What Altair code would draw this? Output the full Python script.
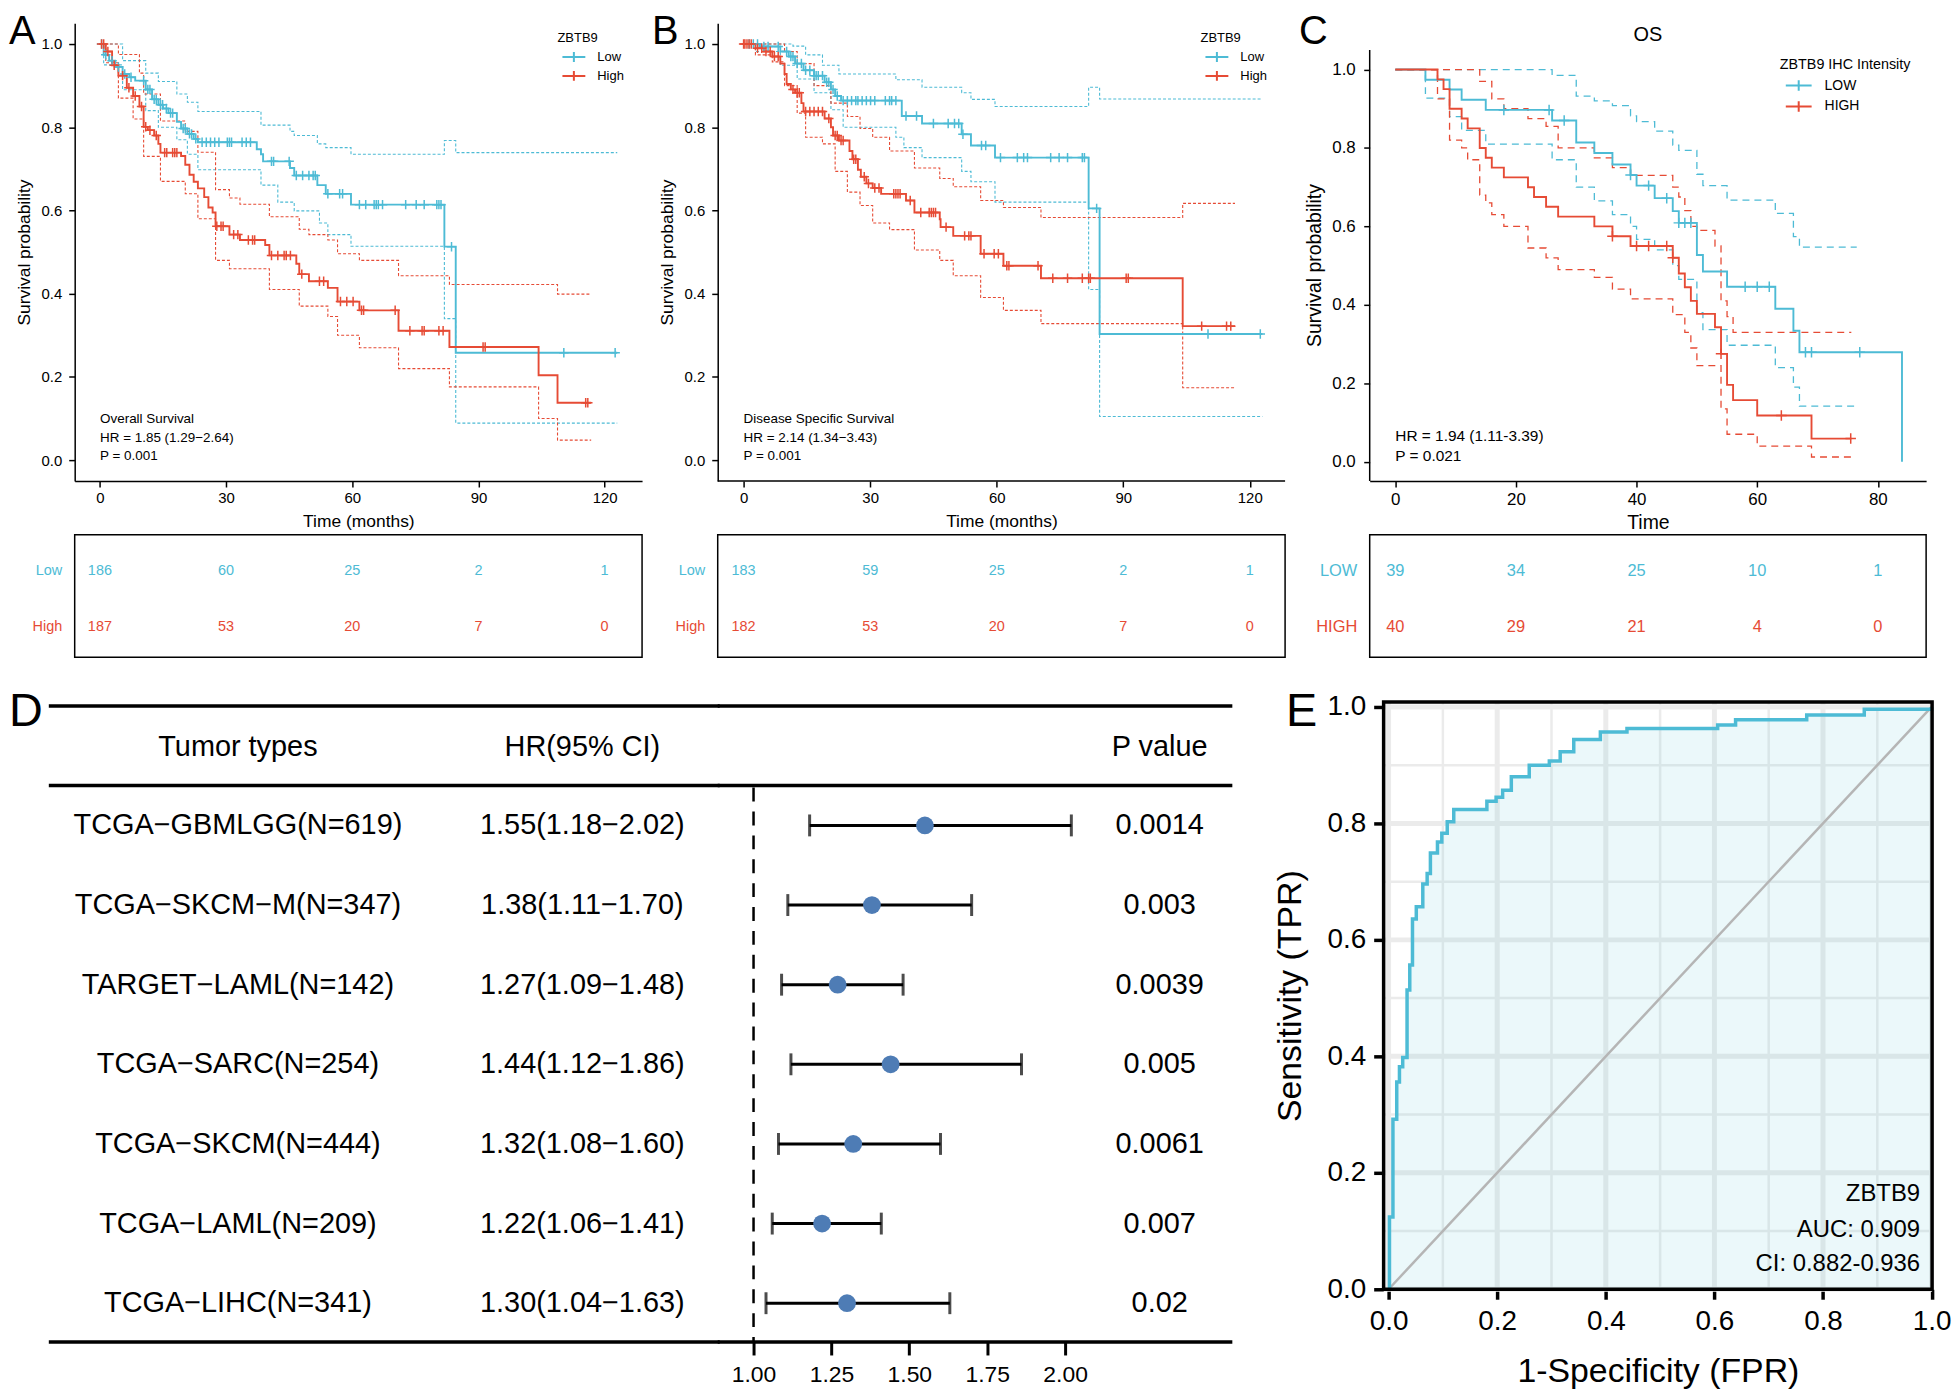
import altair as alt
import pandas as pd

FONT = "Liberation Sans"
BLUE = "#4DBBD5"
RED = "#E64B35"
DOT = "#4E7CB5"
GRID = "#EBEBEB"
CROSS = "M-1,0L1,0M0,-1L0,1"

# ---------------- Panel A : Overall survival ----------------
A_low_t = [0, 0.9, 2.2, 3.6, 5.4, 7.0, 8.4, 10.9, 12.4, 13.9, 15.0, 16.3, 18.3, 19.3, 20.8, 22.3, 23.3,
           37.3, 38.3, 38.8, 45.2, 46.2, 51.7, 53.7, 59.7, 81.9, 84.6]
A_low_s = [1.0, 0.974, 0.96, 0.945, 0.928, 0.92, 0.912, 0.891, 0.867, 0.854, 0.845, 0.834, 0.813, 0.797, 0.784,
           0.772, 0.764, 0.747, 0.735, 0.718, 0.702, 0.684, 0.661, 0.640, 0.614, 0.513, 0.258]
A_low_end = 123.0
A_low_cens = [0.4, 1.4, 2.9, 4.4, 5.9, 7.4, 10.4, 11.4, 11.9, 12.9, 13.4, 14.4, 14.9, 15.8, 16.8, 17.3, 19.8,
              20.3, 21.3, 21.8, 22.8, 24.3, 25.3, 26.3, 27.3, 28.3, 30.3, 30.8, 31.3, 33.8, 34.8, 35.8, 40.8,
              41.3, 45.0, 46.7, 48.2, 49.7, 50.7, 51.2, 54.2, 57.0, 57.7, 61.7, 63.2, 65.2, 65.7, 66.2, 67.2,
              72.7, 75.2, 77.1, 80.1, 80.6, 81.1, 83.6, 110.3, 122.5]
A_low_up_t = [0, 5.4, 10.9, 13.9, 18.3, 20.8, 23.3, 38.3, 45.2, 46.2, 51.7, 53.7, 59.7, 81.9, 84.6]
A_low_up_s = [1.0, 0.96, 0.93, 0.91, 0.88, 0.86, 0.838, 0.805, 0.79, 0.78, 0.76, 0.751, 0.735, 0.768, 0.739]
A_low_lo_t = [0, 0.9, 5.4, 10.9, 13.9, 18.3, 20.8, 23.3, 38.3, 42.3, 46.2, 52.2, 54.2, 59.7, 81.9, 84.6]
A_low_lo_s = [1.0, 0.95, 0.89, 0.84, 0.80, 0.77, 0.735, 0.698, 0.661, 0.62, 0.599, 0.570, 0.542, 0.514, 0.340, 0.089]

A_high_t = [0, 1.4, 2.9, 4.4, 6.4, 7.9, 9.4, 10.4, 11.4, 12.9, 13.9, 14.4, 19.3, 20.3, 21.3, 22.3, 23.3, 24.8,
            25.8, 26.8, 27.5, 30.8, 33.3, 39.3, 40.3, 46.7, 47.4, 49.7, 54.2, 56.5, 61.7, 71.0, 83.1, 104.3, 108.8]
A_high_s = [1.0, 0.982, 0.949, 0.924, 0.895, 0.875, 0.850, 0.801, 0.793, 0.780, 0.760, 0.739, 0.731, 0.710, 0.686,
            0.669, 0.653, 0.632, 0.607, 0.595, 0.562, 0.542, 0.529, 0.517, 0.492, 0.472, 0.447, 0.430, 0.414,
            0.381, 0.360, 0.311, 0.272, 0.204, 0.138]
A_high_end = 116.8
A_high_cens = [0.4, 0.9, 1.9, 3.4, 5.4, 6.9, 8.4, 9.9, 10.9, 11.9, 13.4, 15.4, 15.9, 17.3, 17.8, 18.3, 27.8, 28.8,
               29.3, 31.8, 32.8, 35.3, 36.3, 36.8, 40.8, 42.3, 43.8, 44.3, 45.3, 48.0, 52.2, 53.2, 57.2, 58.7,
               60.2, 62.2, 62.7, 70.2, 73.7, 76.6, 77.1, 80.6, 81.6, 91.1, 91.6, 115.5, 116.0]
A_high_up_t = [0, 4.4, 9.4, 10.4, 14.4, 20.3, 23.3, 27.5, 30.8, 33.3, 40.3, 47.4, 49.7, 54.2, 56.5, 61.7, 71.0,
               83.1, 108.8]
A_high_up_s = [1.0, 0.975, 0.93, 0.88, 0.815, 0.79, 0.74, 0.65, 0.63, 0.615, 0.585, 0.555, 0.542, 0.529, 0.496,
               0.48, 0.443, 0.422, 0.399]
A_high_lo_t = [0, 1.4, 4.4, 7.9, 10.4, 14.4, 20.3, 23.3, 27.5, 30.8, 40.3, 47.4, 54.2, 56.5, 61.7, 71.0, 83.1,
               104.3, 108.8]
A_high_lo_s = [1.0, 0.955, 0.87, 0.82, 0.73, 0.67, 0.64, 0.58, 0.48, 0.46, 0.41, 0.37, 0.345, 0.30, 0.27, 0.22,
               0.176, 0.10, 0.048]

A_risk_t = [0, 30, 60, 90, 120]
A_risk_low = [186, 60, 25, 2, 1]
A_risk_high = [187, 53, 20, 7, 0]
A_notes = ["Overall Survival", "HR = 1.85 (1.29\u22122.64)", "P = 0.001"]

# ---------------- Panel B : Disease specific survival ----------------
B_low_t = [0, 3.8, 8.7, 10.7, 12.2, 14.2, 16.7, 19.2, 20.7, 21.7, 23.1, 37.5, 42.3, 51.7, 53.9, 59.6, 81.8, 84.4]
B_low_s = [1.0, 0.994, 0.982, 0.970, 0.953, 0.937, 0.924, 0.908, 0.891, 0.875, 0.864, 0.827, 0.809, 0.783,
           0.756, 0.727, 0.605, 0.303]
B_low_end = 123.0
B_low_cens = [1.3, 2.3, 3.3, 4.8, 5.8, 8.2, 10.2, 11.2, 11.7, 12.7, 13.7, 14.7, 15.7, 16.7, 17.2, 17.7, 18.7,
              19.7, 20.2, 21.2, 22.2, 23.6, 24.6, 25.6, 26.6, 27.1, 28.1, 29.1, 30.1, 31.1, 33.6, 34.6, 35.1,
              36.1, 38.5, 41.0, 45.0, 48.5, 50.0, 51.0, 52.0, 56.4, 57.4, 60.9, 64.9, 66.4, 67.3, 72.8, 74.8,
              76.8, 80.3, 80.8, 83.7, 110.1, 122.5]
B_low_up_t = [0, 11.7, 14.7, 18.7, 22.6, 36.1, 42.3, 51.7, 53.9, 59.6, 81.8, 84.4]
B_low_up_s = [1.0, 0.995, 0.974, 0.949, 0.928, 0.914, 0.896, 0.883, 0.867, 0.85, 0.896, 0.868]
B_low_lo_t = [0, 2.8, 8.7, 12.7, 16.7, 20.7, 23.6, 36.1, 38.0, 42.3, 51.7, 53.9, 59.6, 81.8, 84.4]
B_low_lo_s = [1.0, 0.982, 0.949, 0.916, 0.883, 0.842, 0.80, 0.776, 0.751, 0.727, 0.694, 0.669, 0.62, 0.41, 0.105]

B_high_t = [0, 2.8, 4.8, 6.8, 8.7, 9.7, 10.2, 11.2, 12.2, 13.7, 14.2, 19.2, 20.7, 21.2, 22.6, 25.1, 25.8, 27.1,
            27.8, 29.1, 30.6, 32.6, 38.5, 40.5, 46.5, 46.7, 49.7, 56.2, 61.6, 70.5, 104.1]
B_high_s = [1.0, 0.99, 0.982, 0.970, 0.953, 0.928, 0.904, 0.891, 0.883, 0.858, 0.838, 0.821, 0.80, 0.78, 0.768,
            0.743, 0.723, 0.698, 0.681, 0.665, 0.654, 0.640, 0.624, 0.595, 0.579, 0.560, 0.539, 0.496, 0.467,
            0.437, 0.322]
B_high_end = 116.5
B_high_cens = [0.0, 0.3, 0.8, 1.3, 1.8, 3.3, 4.3, 5.3, 6.3, 7.3, 8.2, 11.7, 12.7, 13.2, 14.7, 15.7, 16.7, 17.7,
               18.7, 20.2, 21.7, 22.2, 23.1, 23.6, 26.1, 26.6, 28.6, 29.6, 31.1, 32.1, 35.6, 36.1, 36.6, 37.1,
               39.5, 42.0, 44.0, 44.5, 45.0, 45.5, 48.0, 52.4, 53.4, 53.9, 57.0, 59.4, 60.4, 62.4, 62.9, 69.8,
               73.3, 76.8, 80.3, 81.8, 82.2, 90.7, 91.2, 108.6, 114.5, 115.5]
B_high_up_t = [0, 9.7, 12.7, 16.7, 20.7, 24.6, 27.6, 30.6, 34.6, 40.5, 46.5, 49.7, 56.2, 61.6, 70.5, 104.1]
B_high_up_s = [1.0, 0.982, 0.953, 0.90, 0.858, 0.826, 0.797, 0.776, 0.743, 0.702, 0.677, 0.657, 0.624, 0.607,
               0.583, 0.617]
B_high_lo_t = [0, 2.8, 6.8, 9.7, 12.7, 14.7, 18.7, 21.7, 24.6, 27.6, 30.6, 34.6, 40.5, 46.5, 49.7, 56.2, 61.6,
               70.5, 104.1]
B_high_lo_s = [1.0, 0.974, 0.957, 0.90, 0.834, 0.776, 0.760, 0.694, 0.644, 0.612, 0.570, 0.554, 0.505, 0.480,
               0.443, 0.391, 0.36, 0.328, 0.174]

B_risk_t = [0, 30, 60, 90, 120]
B_risk_low = [183, 59, 25, 2, 1]
B_risk_high = [182, 53, 20, 7, 0]
B_notes = ["Disease Specific Survival", "HR = 2.14 (1.34\u22123.43)", "P = 0.001"]

# ---------------- Panel C : OS by IHC intensity ----------------
C_low_t = [0, 5, 9, 11, 15, 26, 30, 33, 36, 39, 40, 43, 46, 47, 50, 51, 55, 63, 66, 67, 84]
C_low_s = [1.0, 0.974, 0.949, 0.923, 0.897, 0.870, 0.814, 0.787, 0.758, 0.731, 0.704, 0.672, 0.639, 0.609,
           0.527, 0.485, 0.446, 0.390, 0.334, 0.279, 0.0]
C_low_end = 84.0
C_low_cens = [18, 25.5, 28, 39, 42, 45, 47, 48, 49, 58, 60, 62, 68, 69, 77]
C_low_up_t = [0, 26, 30, 33, 36, 39, 40, 43, 46, 47, 50, 51, 55, 63, 66, 67]
C_low_up_s = [1.0, 0.985, 0.932, 0.92, 0.908, 0.882, 0.867, 0.843, 0.807, 0.794, 0.733, 0.704, 0.667, 0.633,
              0.574, 0.547]
C_low_lo_t = [0, 5, 9, 11, 15, 26, 30, 33, 36, 39, 40, 43, 46, 47, 50, 51, 55, 63, 66, 67]
C_low_lo_s = [1.0, 0.927, 0.88, 0.845, 0.81, 0.77, 0.70, 0.665, 0.63, 0.60, 0.567, 0.54, 0.50, 0.465, 0.38, 0.337,
              0.297, 0.24, 0.19, 0.142]
C_low_ci_end = 76.5

C_high_t = [0, 7, 8, 9, 11, 12, 14, 15, 16, 18, 22, 23, 25, 27, 33, 36, 39, 46, 47, 48, 49, 50, 53, 54, 55, 56,
            60, 69]
C_high_s = [1.0, 0.975, 0.95, 0.90, 0.875, 0.85, 0.80, 0.775, 0.75, 0.725, 0.70, 0.675, 0.65, 0.625, 0.60, 0.575,
            0.55, 0.52, 0.48, 0.445, 0.41, 0.377, 0.343, 0.275, 0.196, 0.157, 0.118, 0.059]
C_high_end = 75.6
C_high_cens = [36, 40, 42, 45, 46, 54, 64, 75.5]
C_high_up_t = [0, 14, 16, 18, 22, 25, 27, 33, 36, 39, 46, 47, 48, 49, 50, 53, 54, 55, 56]
C_high_up_s = [1.0, 0.97, 0.925, 0.90, 0.875, 0.855, 0.80, 0.775, 0.75, 0.73, 0.70, 0.675, 0.64, 0.60, 0.59, 0.55,
               0.41, 0.37, 0.33]
C_high_lo_t = [0, 7, 9, 11, 12, 14, 15, 16, 18, 22, 25, 27, 33, 36, 39, 46, 48, 49, 50, 54, 55, 60, 69]
C_high_lo_s = [1.0, 0.925, 0.82, 0.80, 0.77, 0.68, 0.66, 0.63, 0.60, 0.545, 0.52, 0.49, 0.47, 0.44, 0.415, 0.375,
               0.33, 0.29, 0.245, 0.135, 0.07, 0.04, 0.012]

C_risk_t = [0, 20, 40, 60, 80]
C_risk_low = [39, 34, 25, 10, 1]
C_risk_high = [40, 29, 21, 4, 0]
C_notes = ["HR = 1.94 (1.11-3.39)", "P = 0.021"]

# ---------------- Panel D : forest plot ----------------
D_names = ["TCGA\u2212GBMLGG(N=619)", "TCGA\u2212SKCM\u2212M(N=347)", "TARGET\u2212LAML(N=142)",
           "TCGA\u2212SARC(N=254)", "TCGA\u2212SKCM(N=444)", "TCGA\u2212LAML(N=209)", "TCGA\u2212LIHC(N=341)"]
D_hr = [1.55, 1.38, 1.27, 1.44, 1.32, 1.22, 1.30]
D_lo = [1.18, 1.11, 1.09, 1.12, 1.08, 1.06, 1.04]
D_hi = [2.02, 1.70, 1.48, 1.86, 1.60, 1.41, 1.63]
D_p = ["0.0014", "0.003", "0.0039", "0.005", "0.0061", "0.007", "0.02"]
D_ticks = [1.0, 1.25, 1.5, 1.75, 2.0]
D_headers = ["Tumor types", "HR(95% CI)", "P value"]

# ---------------- Panel E : ROC ----------------
E_fpr = [0, 0.0016, 0.008, 0.015, 0.02, 0.026, 0.034, 0.039, 0.044, 0.051, 0.063, 0.071, 0.077, 0.09, 0.098,
         0.108, 0.12, 0.181, 0.198, 0.21, 0.226, 0.259, 0.296, 0.316, 0.341, 0.39, 0.439, 0.606, 0.639, 0.77,
         0.876, 1.0]
E_tpr = [0, 0.124, 0.292, 0.356, 0.382, 0.398, 0.514, 0.557, 0.636, 0.657, 0.696, 0.714, 0.749, 0.768, 0.783,
         0.803, 0.824, 0.838, 0.845, 0.857, 0.880, 0.900, 0.907, 0.923, 0.944, 0.957, 0.963, 0.969, 0.978, 0.986,
         0.996, 1.0]
E_diag = [0.0, 1.0]
E_grid_major = [0.0, 0.2, 0.4, 0.6, 0.8, 1.0]
E_grid_minor = [0.1, 0.3, 0.5, 0.7, 0.9]
E_notes = ["ZBTB9", "AUC: 0.909", "CI: 0.882-0.936"]

ONE = pd.DataFrame({"k": [0]})


def step_at(ts, ss, t):
    v = ss[0]
    for ti, si in zip(ts, ss):
        if ti <= t:
            v = si
    return v


def km_frame(parts):
    rows = []
    for label, ts, ss, end in parts:
        for t, s in zip(ts, ss):
            rows.append({"t": t, "s": s, "grp": label})
        rows.append({"t": end, "s": ss[-1], "grp": label})
    return pd.DataFrame(rows)


def ci_frame(parts):
    rows = []
    for label, band, ts, ss, end in parts:
        for t, s in zip(ts, ss):
            rows.append({"t": t, "s": s, "grp": label, "band": band})
        rows.append({"t": end, "s": ss[-1], "grp": label, "band": band})
    return pd.DataFrame(rows)


def cens_frame(parts):
    rows = []
    for label, cts, ts, ss in parts:
        for c in cts:
            rows.append({"t": c, "s": step_at(ts, ss, c), "grp": label})
    return pd.DataFrame(rows)


def txt(text, x, y, size, align="left", baseline="middle", color="black"):
    return alt.Chart(ONE).mark_text(text=text, fontSize=size, align=align, baseline=baseline,
                                    color=color, font=FONT).encode(x=alt.value(x), y=alt.value(y))


def hrule(x1, x2, y, width):
    return alt.Chart(ONE).mark_rule(color="black", strokeWidth=width).encode(
        x=alt.value(x1), x2=alt.value(x2), y=alt.value(y))


LETTER_Y = -11.25


def surv_panel(P):
    xs = alt.Scale(domain=P["xdom"], nice=False, zero=False)
    ys = alt.Scale(domain=P["ydom"], nice=False, zero=False)
    xa = alt.Axis(values=P["xticks"], title=P["xtitle"], grid=False, labelFontSize=P["lab"],
                  titleFontSize=P["tit"], tickSize=6, tickWidth=1.5, domainWidth=1.5, labelPadding=P["xlp"],
                  titlePadding=P["xtp"], labelFlush=False, labelOverlap=False, titleX=P["titleX"],
                  domain=P.get("xdomain_line", True))
    yk = dict(values=[0, 0.2, 0.4, 0.6, 0.8, 1.0], format=".1f", title="Survival probability", grid=False,
              labelFontSize=P["lab"], titleFontSize=P["tit"], tickSize=6, tickWidth=1.5, domainWidth=1.5,
              labelPadding=P["ylp"], titlePadding=P["ytp"], labelFlush=False, labelOverlap=False,
              domain=P["ydomain_line"])
    if "titleY" in P:
        yk["titleY"] = P["titleY"]
    ya = alt.Axis(**yk)
    leg = alt.Legend(orient="none", legendX=P["legX"], legendY=P["legY"], title=P["legTitle"],
                     titleFontSize=P["legTit"], labelFontSize=P["legLab"], symbolType=P["symPath"],
                     symbolSize=P["symSize"], symbolStrokeWidth=2, symbolOffset=P["symOff"],
                     labelOffset=P["labOff"], rowPadding=P["rowPad"], titlePadding=P["titPad"], padding=0,
                     symbolFillColor="transparent")
    col = alt.Color("grp:N", scale=alt.Scale(domain=P["groups"], range=[BLUE, RED]), legend=leg)
    X = alt.X("t:Q", scale=xs, axis=xa)
    Y = alt.Y("s:Q", scale=ys, axis=ya)
    layers = [
        alt.Chart(P["ci"]).mark_line(interpolate="step-after", strokeWidth=P["ciw"], strokeDash=P["dash"])
        .encode(X, Y, color=col, detail="band:N"),
        alt.Chart(P["km"]).mark_line(interpolate="step-after", strokeWidth=1.9).encode(X, Y, color=col),
        alt.Chart(P["cens"]).mark_point(shape=CROSS, filled=False, size=P["censSize"], strokeWidth=1.5,
                                        opacity=1).encode(X, Y, color=col),
    ]
    for i, note in enumerate(P["notes"]):
        layers.append(txt(note, P["noteX"], P["noteY"][i], P["noteFs"]))
    layers.extend(P.get("extra", []))
    layers.append(txt(P["letter"], P["letX"], LETTER_Y, 40, baseline="top"))
    return alt.layer(*layers).properties(width=P["w"], height=P["h"])


RISK_H = 114      # layout cell height (box itself is drawn 123 px tall)
RISK_BOX = 123


def risk_panel(groups, ts, low, high, xdom, w, fs, box_w=None):
    df = pd.DataFrame({"t": ts + ts, "n": low + high, "grp": [groups[0]] * len(ts) + [groups[1]] * len(ts)})
    ya = alt.Axis(title=None, domain=False, ticks=False, labelFontSize=fs, labelPadding=13,
                  labelColor=alt.ExprRef(expr=f"datum.value == '{groups[0]}' ? '{BLUE}' : '{RED}'"))
    nums = alt.Chart(df).mark_text(fontSize=fs, font=FONT).encode(
        x=alt.X("t:Q", scale=alt.Scale(domain=xdom, nice=False, zero=False), axis=None),
        y=alt.Y("grp:N", scale=alt.Scale(type="point", domain=groups, range=[36, 92.5], padding=0), axis=ya),
        text="n:Q",
        color=alt.condition(alt.datum.grp == groups[0], alt.value(BLUE), alt.value(RED)),
    )
    box = alt.Chart(ONE).mark_rect(fillOpacity=0, stroke="black", strokeWidth=1.5).encode(
        x=alt.value(0), x2=alt.value(box_w or w), y=alt.value(0), y2=alt.value(RISK_BOX))
    return alt.layer(nums, box).properties(width=w, height=RISK_H)


LEG_AB = dict(legTitle="ZBTB9", legTit=13, legLab=13, symPath="M-2.3,0L2.3,0M0,-1L0,1", symSize=100,
              symOff=10, labOff=17, rowPad=0, titPad=6)

A = surv_panel(dict(
    groups=["Low", "High"],
    km=km_frame([("Low", A_low_t, A_low_s, A_low_end), ("High", A_high_t, A_high_s, A_high_end)]),
    ci=ci_frame([("Low", "up", A_low_up_t, A_low_up_s, A_low_end), ("Low", "lo", A_low_lo_t, A_low_lo_s, A_low_end),
                 ("High", "up", A_high_up_t, A_high_up_s, A_high_end),
                 ("High", "lo", A_high_lo_t, A_high_lo_s, A_high_end)]),
    cens=cens_frame([("Low", A_low_cens, A_low_t, A_low_s), ("High", A_high_cens, A_high_t, A_high_s)]),
    xdom=[-5.99, 128.9], ydom=[-0.0502, 1.0502], xticks=A_risk_t, xtitle="Time (months)", titleX=285,
    lab=15, tit=17.5, xlp=4, xtp=7, ylp=7, ytp=8, ydomain_line=True,
    legX=485, legY=8.5, **LEG_AB,
    ciw=1.1, dash=[3, 2], censSize=90,
    notes=A_notes, noteX=25.5, noteY=[398, 417, 434.5], noteFs=13.5,
    letter="A", letX=-66, w=570, h=460))

B_W = 579
B_AXIS_W = 570
B = surv_panel(dict(
    groups=["Low", "High"],
    km=km_frame([("Low", B_low_t, B_low_s, B_low_end), ("High", B_high_t, B_high_s, B_high_end)]),
    ci=ci_frame([("Low", "up", B_low_up_t, B_low_up_s, B_low_end), ("Low", "lo", B_low_lo_t, B_low_lo_s, B_low_end),
                 ("High", "up", B_high_up_t, B_high_up_s, B_high_end),
                 ("High", "lo", B_high_lo_t, B_high_lo_s, B_high_end)]),
    cens=cens_frame([("Low", B_low_cens, B_low_t, B_low_s), ("High", B_high_cens, B_high_t, B_high_s)]),
    xdom=[-6.14, 130.5], ydom=[-0.0502, 1.0502], xticks=B_risk_t, xtitle="Time (months)", titleX=285,
    lab=15, tit=17.5, xlp=4, xtp=7, ylp=7, ytp=8, ydomain_line=True, xdomain_line=False,
    legX=485, legY=8.5, **LEG_AB,
    ciw=1.1, dash=[3, 2], censSize=90,
    notes=B_notes, noteX=26, noteY=[398, 417, 434.5], noteFs=13.5,
    extra=[hrule(0, B_AXIS_W, 460, 1.5)],
    letter="B", letX=-66, w=B_W, h=460))

C_yaxis_line = alt.Chart(ONE).mark_rule(color="black", strokeWidth=1.5).encode(
    x=alt.value(0), y=alt.value(27), y2=alt.value(460))

C = surv_panel(dict(
    groups=["LOW", "HIGH"],
    km=km_frame([("LOW", C_low_t, C_low_s, C_low_end), ("HIGH", C_high_t, C_high_s, C_high_end)]),
    ci=ci_frame([("LOW", "up", C_low_up_t, C_low_up_s, C_low_ci_end),
                 ("LOW", "lo", C_low_lo_t, C_low_lo_s, C_low_ci_end),
                 ("HIGH", "up", C_high_up_t, C_high_up_s, C_high_end),
                 ("HIGH", "lo", C_high_lo_t, C_high_lo_s, C_high_end)]),
    cens=cens_frame([("LOW", C_low_cens, C_low_t, C_low_s), ("HIGH", C_high_cens, C_high_t, C_high_s)]),
    xdom=[-4.24, 88.0], ydom=[-0.0492, 1.1183], xticks=C_risk_t, xtitle="Time", titleX=279.5,
    lab=17, tit=19.5, xlp=5, xtp=6, ylp=8.5, ytp=7, ydomain_line=False, titleY=243,
    legX=412, legY=34.8, legTitle="ZBTB9 IHC Intensity", legTit=14.4, legLab=14,
    symPath="M-2.36,0L2.36,0M0,-0.97L0,0.97", symSize=121, symOff=12, labOff=19, rowPad=1, titPad=6.5,
    ciw=1.3, dash=[7, 5], censSize=110,
    notes=C_notes, noteX=25.7, noteY=[414.5, 435], noteFs=15.5,
    extra=[C_yaxis_line, txt("OS", 279.5, 11.6, 20, align="center")],
    letter="C", letX=-71, w=559, h=460))

A_risk = risk_panel(["Low", "High"], A_risk_t, A_risk_low, A_risk_high, [-5.99, 128.9], 570, 14.5)
B_risk = risk_panel(["Low", "High"], B_risk_t, B_risk_low, B_risk_high, [-6.14, 130.5], B_W, 14.5,
                    box_w=B_AXIS_W)
C_risk = risk_panel(["LOW", "HIGH"], C_risk_t, C_risk_low, C_risk_high, [-4.24, 88.0], 559, 16.5)

# ---------------- D (split over two grid columns) ----------------
D_H = 643
dfD = pd.DataFrame({
    "row": list(range(len(D_names))), "name": D_names, "hr": D_hr, "lo": D_lo, "hi": D_hi, "p": D_p,
    "hrtxt": [f"{h:.2f}({l:.2f}\u2212{u:.2f})" for h, l, u in zip(D_hr, D_lo, D_hi)],
})
ysD = alt.Scale(domain=[-1.55, 6.4875], nice=False, zero=False, reverse=True)
YD = alt.Y("row:Q", scale=ysD, axis=None)

DL_layers = [
    alt.Chart(dfD).mark_text(fontSize=29, font=FONT).encode(x=alt.value(164), y=YD, text="name:N"),
    alt.Chart(dfD).mark_text(fontSize=29, font=FONT).encode(x=alt.value(510), y=YD, text="hrtxt:N"),
]
for yv in (4, 84, D_H):
    DL_layers.append(hrule(-26, 648, yv, 3.5))
for hx, htxt in zip((164, 510), D_headers[:2]):
    DL_layers.append(txt(htxt, hx, 45, 29, align="center"))
DL_layers.append(txt("D", -66, -12.5, 47, baseline="top"))
D_left = alt.layer(*DL_layers).properties(width=570, height=D_H)

xsD = alt.Scale(domain=[0.885, 2.7348], nice=False, zero=False)
axD = alt.Axis(values=D_ticks, format=".2f", title=None, domain=False, grid=False, tickSize=13, tickWidth=3,
               labelFontSize=23, labelPadding=9, labelFlush=False, labelOverlap=False)
refD = pd.DataFrame({"hr": [1.0]})
DR_layers = [
    alt.Chart(refD).mark_rule(color="black", strokeWidth=2.5, strokeDash=[14, 10]).encode(
        x=alt.X("hr:Q", scale=xsD, axis=axD), y=alt.value(86), y2=alt.value(D_H)),
    alt.Chart(dfD).mark_rule(color="black", strokeWidth=3).encode(
        x=alt.X("lo:Q", scale=xsD, axis=axD), x2="hi:Q", y=YD),
    alt.Chart(dfD).mark_tick(color="black", orient="vertical", thickness=3, size=22).encode(
        x=alt.X("lo:Q", scale=xsD, axis=axD), y=YD),
    alt.Chart(dfD).mark_tick(color="black", orient="vertical", thickness=3, size=22).encode(
        x=alt.X("hi:Q", scale=xsD, axis=axD), y=YD),
    alt.Chart(dfD).mark_circle(color=DOT, size=320, opacity=1).encode(
        x=alt.X("hr:Q", scale=xsD, axis=axD), y=YD),
    alt.Chart(dfD).mark_text(fontSize=29, font=FONT).encode(x=alt.value(444), y=YD, text="p:N"),
]
for yv in (4, 84, D_H):
    DR_layers.append(hrule(0, 517, yv, 3.5))
DR_layers.append(txt(D_headers[2], 444, 45, 29, align="center"))
D_right = alt.layer(*DR_layers).properties(width=B_W, height=D_H)

# ---------------- E ----------------
E_W, E_H, E_OFF = 565, 590, 14
xsE = alt.Scale(domain=[-0.0348, 1.0009], nice=False, zero=False)
ysE = alt.Scale(domain=[0, 1.0085], nice=False, zero=False)
axEx = alt.Axis(values=E_grid_major, format=".1f", title="1-Specificity (FPR)", domain=False, grid=False,
                tickSize=10, tickWidth=3.5, labelFontSize=28, titleFontSize=34, labelPadding=8,
                titlePadding=20, labelFlush=False, labelOverlap=False, titleX=289.5)
axEy = alt.Axis(values=E_grid_major, format=".1f", title="Sensitivity (TPR)", domain=False, grid=False,
                tickSize=10, tickWidth=3.5, labelFontSize=28, titleFontSize=34, labelPadding=8,
                titlePadding=20, labelFlush=False, labelOverlap=False, offset=-E_OFF)
gmaj = pd.DataFrame({"g": E_grid_major})
gmin = pd.DataFrame({"g": E_grid_minor})
roc = pd.DataFrame({"fpr": E_fpr, "tpr": E_tpr})
diag = pd.DataFrame({"fpr": E_diag, "tpr": E_diag})
XE = alt.X("fpr:Q", scale=xsE, axis=axEx)
YE = alt.Y("tpr:Q", scale=ysE, axis=axEy)
E_layers = [
    alt.Chart(gmin).mark_rule(color=GRID, strokeWidth=2.5).encode(x=alt.X("g:Q", scale=xsE, axis=axEx)),
    alt.Chart(gmin).mark_rule(color=GRID, strokeWidth=2.5).encode(
        y=alt.Y("g:Q", scale=ysE, axis=axEy), x=alt.value(E_OFF), x2=alt.value(E_W)),
    alt.Chart(gmaj).mark_rule(color=GRID, strokeWidth=5).encode(x=alt.X("g:Q", scale=xsE, axis=axEx)),
    alt.Chart(gmaj).mark_rule(color=GRID, strokeWidth=5).encode(
        y=alt.Y("g:Q", scale=ysE, axis=axEy), x=alt.value(E_OFF), x2=alt.value(E_W)),
    alt.Chart(roc).mark_area(interpolate="step-after", color=BLUE, opacity=0.11).encode(XE, YE),
    alt.Chart(diag).mark_line(color="#B5B5B5", strokeWidth=2.5).encode(XE, YE),
    alt.Chart(roc).mark_line(interpolate="step-after", color=BLUE, strokeWidth=3.5).encode(XE, YE),
]
for i, note in enumerate(E_notes):
    E_layers.append(txt(note, 553, [494, 530, 565][i], 24, align="right"))
E_layers.append(alt.Chart(ONE).mark_rect(fillOpacity=0, stroke="black", strokeWidth=3.5).encode(
    x=alt.value(E_OFF), x2=alt.value(E_W), y=alt.value(0), y2=alt.value(E_H)))
E_layers.append(txt("E", -84, -12.5, 47, baseline="top"))
E = alt.layer(*E_layers).properties(width=E_W, height=E_H)

chart = alt.concat(
    A, B, C, A_risk, B_risk, C_risk, D_left, D_right, E,
    columns=3, bounds="flush",
    spacing=alt.RowColnumber(row=54, column=76),
).resolve_scale(x="independent", y="independent", color="independent").resolve_legend(
    color="independent").properties(padding=0)

chart = chart.configure_view(stroke="transparent").configure_axis(
    labelFont=FONT, titleFont=FONT, titleFontWeight="normal", labelColor="black", titleColor="black",
    domainColor="black", tickColor="black").configure_legend(
    labelFont=FONT, titleFont=FONT, titleFontWeight="normal", labelColor="black", titleColor="black"
).configure_text(font=FONT)

chart.save("out.html", embed_options={"renderer": "svg", "actions": False})
